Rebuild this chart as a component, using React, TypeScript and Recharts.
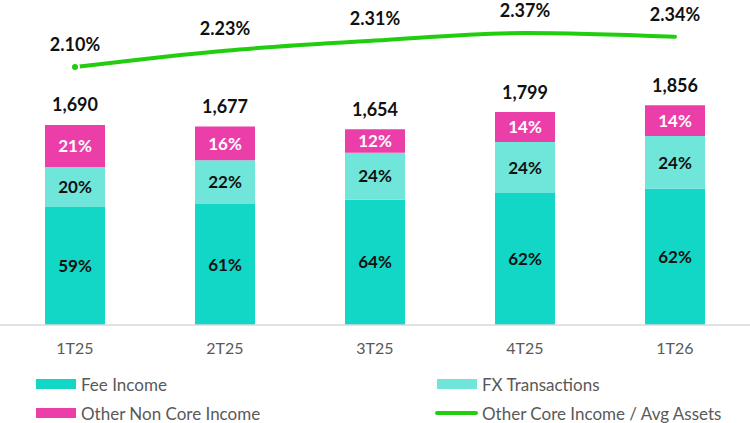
import {
  ComposedChart,
  Bar,
  Line,
  XAxis,
  YAxis,
  LabelList,
} from "recharts";

const quarters = ["1T25", "2T25", "3T25", "4T25", "1T26"];
const totals = [1690, 1677, 1654, 1799, 1856];
const feeShare = [59, 61, 64, 62, 62];
const fxShare = [20, 22, 24, 24, 24];
const otherShare = [21, 16, 12, 14, 14];
const coreRatio = [2.1, 2.23, 2.31, 2.37, 2.34];

const FEE = "#12d6c6";
const FX = "#70e6db";
const OTHER = "#ec3ea8";
const GREEN = "#22cc0f";
const FONT = "Lato, 'Open Sans', sans-serif";

// bar segments sized from total and the printed shares
const chartData = quarters.map((q, i) => {
  const fee = (totals[i] * feeShare[i]) / 100;
  const fx = (totals[i] * fxShare[i]) / 100;
  return {
    quarter: q,
    fee,
    fx,
    other: totals[i] - fee - fx,
    ratio: coreRatio[i],
  };
});

const legendItems = [
  { label: "Fee Income", color: FEE, kind: "box", left: 36, top: 384 },
  { label: "FX Transactions", color: FX, kind: "box", left: 437, top: 384 },
  { label: "Other Non Core Income", color: OTHER, kind: "box", left: 36, top: 413 },
  { label: "Other Core Income / Avg Assets", color: GREEN, kind: "line", left: 435, top: 413 },
];

const shareLabel =
  (shares: number[], color: string) =>
  (props: any) => {
    const { x, y, width, height, index } = props;
    return (
      <text
        x={x + width / 2}
        y={y + height / 2}
        dy="0.36em"
        textAnchor="middle"
        fill={color}
        fontSize={17}
        fontWeight="bold"
        fontFamily={FONT}
      >
        {shares[index]}%
      </text>
    );
  };

const totalLabel = (props: any) => {
  const { x, y, width, index } = props;
  return (
    <text
      x={x + width / 2}
      y={y - 20}
      dy="0.36em"
      textAnchor="middle"
      fill="#111"
      fontSize={18}
      fontWeight="bold"
      fontFamily={FONT}
    >
      {totals[index].toLocaleString("en-US")}
    </text>
  );
};

const ratioLabel = (props: any) => {
  const { x, y, index } = props;
  return (
    <text
      x={x}
      y={y - 22}
      dy="0.36em"
      textAnchor="middle"
      fill="#111"
      fontSize={18}
      fontWeight="bold"
      fontFamily={FONT}
    >
      {coreRatio[index].toFixed(2)}%
    </text>
  );
};

export default function App() {
  return (
    <div
      style={{
        position: "absolute",
        left: 0,
        top: 0,
        width: 750,
        height: 423,
        overflow: "hidden",
        background: "#fff",
        fontFamily: FONT,
      }}
    >
      <ComposedChart
        width={750}
        height={365}
        data={chartData}
        margin={{ top: 0, right: 0, left: 0, bottom: 0 }}
        barSize={60}
        style={{ fontFamily: FONT }}
      >
        <XAxis
          dataKey="quarter"
          height={40}
          tickLine={false}
          axisLine={{ stroke: "#d9d9d9", strokeWidth: 1.5 }}
          tick={{ fill: "#595959", fontSize: 16, fontFamily: FONT }}
          tickMargin={12}
        />
        <YAxis yAxisId="left" hide domain={[0, 2746]} />
        <YAxis yAxisId="right" orientation="right" hide domain={[0.052, 2.632]} />
        <Bar yAxisId="left" dataKey="fee" stackId="a" fill={FEE} isAnimationActive={false}>
          <LabelList dataKey="fee" content={shareLabel(feeShare, "#111")} />
        </Bar>
        <Bar yAxisId="left" dataKey="fx" stackId="a" fill={FX} isAnimationActive={false}>
          <LabelList dataKey="fx" content={shareLabel(fxShare, "#111")} />
        </Bar>
        <Bar yAxisId="left" dataKey="other" stackId="a" fill={OTHER} isAnimationActive={false}>
          <LabelList dataKey="other" content={shareLabel(otherShare, "#fff")} />
          <LabelList dataKey="other" content={totalLabel} />
        </Bar>
        <Line
          yAxisId="right"
          type="monotone"
          dataKey="ratio"
          stroke={GREEN}
          strokeWidth={4}
          strokeLinecap="round"
          dot={false}
          isAnimationActive={false}
        >
          <LabelList dataKey="ratio" content={ratioLabel} />
        </Line>
      </ComposedChart>
      {legendItems.map((item) => (
        <div
          key={item.label}
          style={{
            position: "absolute",
            left: item.left,
            top: item.top - 11,
            height: 22,
            display: "flex",
            alignItems: "center",
            fontSize: 17,
            color: "#595959",
            whiteSpace: "nowrap",
          }}
        >
          <span
            style={{
              display: "inline-block",
              width: item.kind === "line" ? 43 : 40,
              height: item.kind === "line" ? 4 : 10,
              borderRadius: item.kind === "line" ? 2 : 0,
              background: item.color,
              marginRight: item.kind === "line" ? 4 : 5,
            }}
          />
          {item.label}
        </div>
      ))}
    </div>
  );
}
